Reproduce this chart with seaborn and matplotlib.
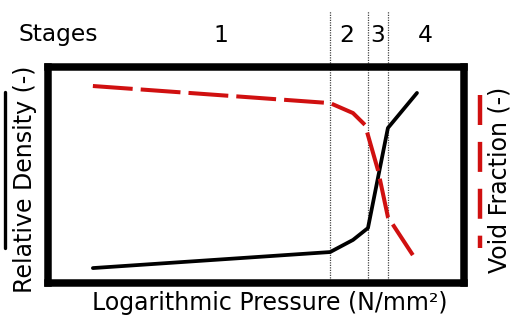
import numpy as np
import matplotlib
matplotlib.use("Agg")
import matplotlib.pyplot as plt
import seaborn as sns
from matplotlib.lines import Line2D

# --------------------------------------------------
# DATA (x = logarithmic pressure, axis spans 0..100)
# --------------------------------------------------

pressure_density = [10.8, 67.9, 73.4, 77.0, 81.8, 88.8]
relative_density = [0.069, 0.143, 0.199, 0.254, 0.716, 0.878]

pressure_void = [10.8, 67.9, 73.4, 76.3, 79.4, 81.8, 87.8]
void_fraction = [0.910, 0.831, 0.785, 0.730, 0.522, 0.305, 0.129]

stage_bounds = [67.9, 77.0, 81.8]
stage_labels = ["1", "2", "3", "4"]
stage_label_x = [41.6, 72.0, 79.4, 90.7]

sns.set_style("white")
plt.rcParams["font.family"] = ["DejaVu Sans"]
plt.rcParams["text.color"] = "black"

fig = plt.figure(figsize=(5.14, 3.29), dpi=100)
ax = fig.add_axes([0.0934, 0.1398, 0.8084, 0.658])

# --------------------------------------------------
# CURVES
# --------------------------------------------------

sns.lineplot(x=pressure_density, y=relative_density, ax=ax,
             color="black", linewidth=2.7)
sns.lineplot(x=pressure_void, y=void_fraction, ax=ax,
             color="#d01010", linewidth=2.9,
             linestyle=(0, (9.9, 2.0)))

ax.set_xlim(0, 100)
ax.set_ylim(0, 1)

# stage separators, reaching above the frame
for b in stage_bounds:
    ax.axvline(b, ymin=0, ymax=1.255, color="#444444", linewidth=0.9,
               linestyle=(0, (1, 1)), clip_on=False, zorder=1)

for lab, xs in zip(stage_labels, stage_label_x):
    ax.text(xs, 1.145, lab, ha="center", va="center", fontsize=16.8,
            color="black", transform=ax.get_xaxis_transform())
fig.text(18 / 514, 1 - 35 / 329, "Stages", ha="left", va="center",
         fontsize=16.8, color="black")

# --------------------------------------------------
# FRAME + LABELS
# --------------------------------------------------

ax.set_xticks([])
ax.set_yticks([])
ax.set_xlabel("")
ax.set_ylabel("")
for sp in ax.spines.values():
    sp.set_visible(True)
    sp.set_color("black")
    sp.set_linewidth(5.4)

fig.text(0.525, 0.079, "Logarithmic Pressure (N/mm²)", ha="center",
         va="center", fontsize=17, color="black")
fig.text(25 / 514, 0.456, "Relative Density (-)", rotation=90,
         ha="center", va="center", fontsize=17, color="black")
fig.text(500 / 514, 0.453, "Void Fraction (-)", rotation=90,
         ha="center", va="center", fontsize=17, color="black")

# legend-like markers beside the axis titles
fig.add_artist(Line2D([5 / 514, 5 / 514], [1 - 92 / 329, 1 - 248 / 329],
                      color="black", linewidth=2.4))
fig.add_artist(Line2D([479.5 / 514, 479.5 / 514], [1 - 95 / 329, 1 - 248 / 329],
                      color="#d01010", linewidth=3.2, solid_capstyle="butt",
                      linestyle=(0, (6.75, 3.8))))

plt.savefig("out.png", dpi=100)
